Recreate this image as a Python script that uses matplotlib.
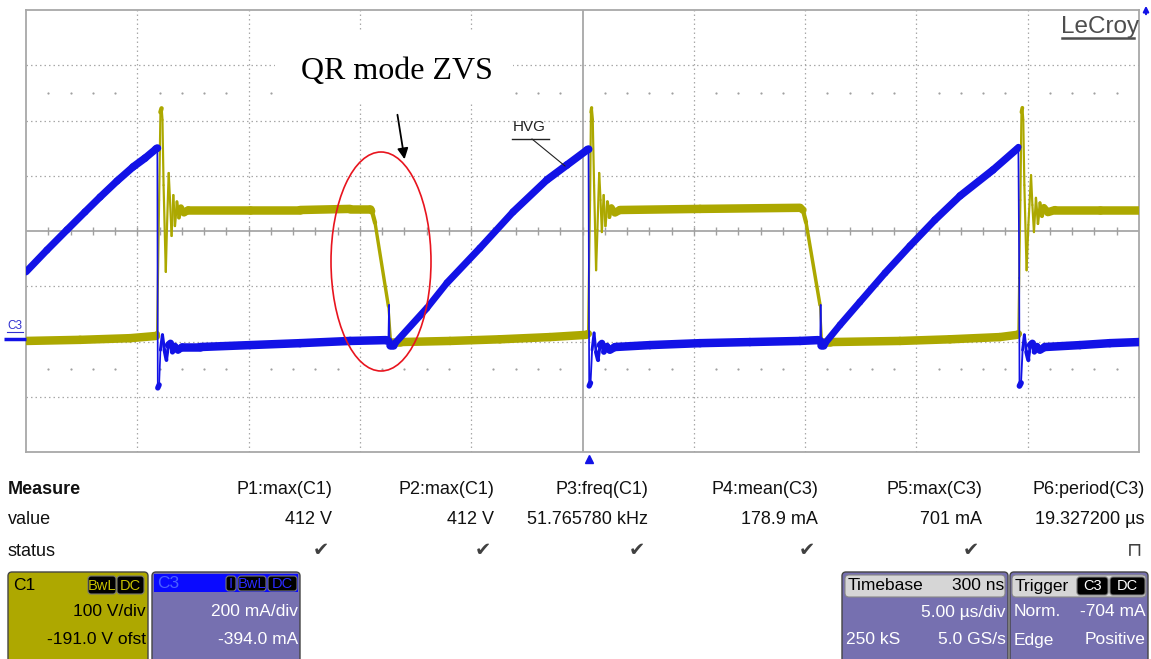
import numpy as np
import matplotlib
matplotlib.use("Agg")
import matplotlib.pyplot as plt
from matplotlib.collections import LineCollection
from matplotlib.patches import Ellipse, Rectangle, FancyBboxPatch, FancyArrowPatch

# scope settings (from the info boxes)
t_per_div = 5.0        # us/div
t_delay = 0.3          # us (trigger sits right of centre)
c1_per_div = 100.0     # V/div
c1_offset = -191.0     # V
c3_per_div = 200.0     # mA/div
c3_offset = -394.0     # mA

# C1 trace (yellow), time in us, volts
c1_t = [-25.30, -22.87, -20.63, -19.46,
        -19.41, -19.32, -19.26, -19.21, -19.17, -19.12, -19.02, -18.97, -18.89,
        -18.83, -18.76, -18.68, -18.61, -18.52, -18.43, -18.34, -18.20, -18.02,
        -15.24, -12.99, -10.74, -9.85, -9.76, -9.62, -9.02, -8.90,
        -8.50, -6.25, -4.01, -1.76, -0.14,
        -0.05, 0.04, 0.08, 0.11, 0.16, 0.22, 0.31, 0.37, 0.45,
        0.51, 0.57, 0.65, 0.73, 0.82, 0.91, 1.00, 1.16, 1.38,
        4.98, 9.47, 9.60, 9.74, 10.37, 10.46,
        10.82, 13.96, 16.21, 18.45, 19.22,
        19.28, 19.37, 19.42, 19.46, 19.50, 19.55, 19.65, 19.73, 19.85,
        19.91, 19.98, 20.07, 20.16, 20.25, 20.34, 20.43, 20.61, 20.92,
        22.95, 24.70]
c1_v = [-8, -6, -3, 1,
        5, 247, 406, 413, 392, 274, 117, 193, 296,
        247, 182, 256, 200, 244, 215, 234, 224, 229,
        229, 229, 231, 231, 227, 206, 55, -10,
        -10, -8, -5, -1, 3,
        5, 247, 406, 414, 392, 274, 120, 193, 296,
        247, 189, 256, 200, 244, 216, 234, 224, 229,
        231, 233, 229, 207, 57, -10,
        -10, -8, -5, -1, 3,
        5, 247, 406, 414, 392, 274, 120, 202, 292,
        238, 189, 251, 204, 242, 218, 234, 225, 229,
        229, 229]

# C3 trace (blue), time in us, mA
c3_t = [-25.30, -24.36, -23.46, -22.65, -21.97, -21.21, -20.49, -19.95, -19.46, -19.40,
        -19.38, -19.32, -19.26, -19.17, -19.08, -18.99, -18.90, -18.81, -18.72,
        -18.61, -18.47, -18.29,
        -17.48, -15.24, -12.99, -10.74, -9.13, -9.02, -8.99, -8.97, -8.81,
        -8.72, -7.29, -6.39, -4.91, -3.42, -1.90, -1.00, -0.10,
        -0.03, 0.00, 0.06, 0.13, 0.22, 0.31, 0.40, 0.49, 0.57, 0.66, 0.80, 0.93, 1.16,
        2.73, 4.98, 7.22, 9.47, 10.28, 10.38, 10.40, 10.42, 10.50,
        10.60, 11.27, 12.16, 13.29, 14.41, 15.53, 16.66, 18.14, 19.22,
        19.28, 19.32, 19.33, 19.40, 19.47, 19.55, 19.64, 19.73, 19.82, 19.91,
        20.00, 20.12, 20.25, 20.47,
        22.05, 23.39, 24.70]
c3_i = [246, 325, 398, 463, 517, 575, 626, 658, 691, 694,
        -174, -163, -37, 18, -37, -73, -19, -12, -44,
        -22, -37, -26,
        -26, -19, -12, -4, -1, -4, 126, -19, -19,
        -12, 115, 206, 332, 463, 579, 633, 687,
        690, -167, -156, -37, 25, -44, -73, -19, -12, -44, -22, -37, -26,
        -19, -12, -8, -4, -1, -4, 126, -19, -19,
        -12, 54, 137, 242, 340, 434, 521, 615, 691,
        698, 224, -167, -156, -37, 18, -44, -73, -19, -12,
        -44, -22, -37, -26,
        -19, -12, -8]

# measurement table
meas_names = ["P1:max(C1)", "P2:max(C1)", "P3:freq(C1)", "P4:mean(C3)", "P5:max(C3)", "P6:period(C3)"]
meas_values = ["412 V", "412 V", "51.765780 kHz", "178.9 mA", "701 mA", "19.327200 µs"]
meas_status = ["✔", "✔", "✔", "✔", "✔", "⊓"]

YEL = "#aca800"
BLU = "#1212e6"
GRID = "#a8a8a8"
PANEL = "#7670b0"
SANS = ["Liberation Sans", "DejaVu Sans"]

W, H = 1151, 659
fig = plt.figure(figsize=(W / 100, H / 100), dpi=100)
fig.patch.set_facecolor("white")

ax = fig.add_axes([26 / W, 1 - 452 / H, 1113 / W, 442 / H])
t_lo = -t_delay - 5 * t_per_div
v_lo = -c1_offset - 4 * c1_per_div
ax.set_xlim(t_lo, t_lo + 10 * t_per_div)
ax.set_ylim(v_lo, v_lo + 8 * c1_per_div)
ax.set_xticks([])
ax.set_yticks([])
for s in ax.spines.values():
    s.set_color(GRID)
    s.set_linewidth(1.3)

dotted = dict(color=GRID, lw=0.9, ls=(0, (1.2, 2.4)), zorder=1)
for k in range(1, 10):
    xg = t_lo + k * t_per_div
    if k == 5:
        ax.axvline(xg, color="#a0a0a0", lw=1.2, zorder=1)
    else:
        ax.axvline(xg, **dotted)
for k in range(1, 8):
    yg = v_lo + k * c1_per_div
    if k == 4:
        ax.axhline(yg, color="#a0a0a0", lw=1.2, zorder=1)
    else:
        ax.axhline(yg, **dotted)

minor_t = t_lo + np.arange(1, 50) * t_per_div / 5
ax.plot(minor_t, np.full(minor_t.shape, v_lo + 4 * c1_per_div), ls="none",
        marker="|", ms=6, mew=1, color="#a0a0a0", zorder=1)
keep = np.arange(1, 50) % 5 != 0
for dv in (-2.5, 2.5):
    ax.plot(minor_t[keep], np.full(keep.sum(), v_lo + (4 + dv) * c1_per_div),
            ls="none", marker="o", ms=1.6, mew=0, color="#a0a0a0", zorder=1)

ax3 = ax.twinx()
i_lo = -c3_offset - 4 * c3_per_div
ax3.set_ylim(i_lo, i_lo + 8 * c3_per_div)
ax3.set_yticks([])
for s in ax3.spines.values():
    s.set_visible(False)
ax3.patch.set_visible(False)


def draw_trace(axis, t, v, color, minw, z):
    # thick where the trace is slow, thin on the fast edges
    t = np.asarray(t, float)
    v = np.asarray(v, float)
    pts = axis.transData.transform(np.column_stack([t, v]))
    d = np.diff(pts, axis=0)
    cos = np.abs(d[:, 0]) / np.hypot(d[:, 0], d[:, 1])
    w_px = np.maximum(minw, 8.5 * np.sqrt(cos))
    segs = np.stack([np.column_stack([t[:-1], v[:-1]]),
                     np.column_stack([t[1:], v[1:]])], axis=1)
    lc = LineCollection(segs, linewidths=w_px * 72 / fig.dpi, colors=color,
                        capstyle="round", joinstyle="round", zorder=z)
    axis.add_collection(lc)


draw_trace(ax, c1_t, c1_v, YEL, 2.2, 3)
draw_trace(ax3, c3_t, c3_i, BLU, 1.7, 4)

# trigger position marker
ax.plot([0], [-0.016], transform=ax.get_xaxis_transform(), marker="^", ms=6,
        color=BLU, clip_on=False, zorder=5)

# overlay in pixel coordinates
ov = fig.add_axes([0, 0, 1, 1])
ov.set_xlim(0, W)
ov.set_ylim(H, 0)
ov.axis("off")

ov.add_patch(Rectangle((275, 32), 238, 70, fc="white", ec="none"))
ov.text(397, 79, "QR mode ZVS", ha="center", va="baseline", fontsize=23,
        family=["Liberation Serif", "DejaVu Serif"])
ov.add_patch(FancyArrowPatch((397, 112), (405, 162), arrowstyle="-|>",
                             mutation_scale=16, color="black", lw=1.3))
ov.add_patch(Ellipse((381, 261.5), 100, 219, fill=False, ec="#e8141e", lw=1.2))

ov.text(513, 127, "HVG", ha="left", va="center", fontsize=11, color="#222222", family=SANS)
ov.plot([512, 549], [139, 139], color="#222222", lw=1.0)
ov.plot([532, 565], [139, 166], color="#222222", lw=0.8)

ov.text(1061, 33, "LeCroy", ha="left", va="baseline", fontsize=17.5, color="#4e4e4e", family=SANS)
ov.plot([1062, 1134], [38, 38], color="#4e4e4e", lw=1.8)
# small off-screen indicator at top right
ov.add_patch(FancyArrowPatch((1146, 17), (1146, 3), arrowstyle="-|>",
                             mutation_scale=8, color=BLU, lw=1.5))

ov.text(7, 326, "C3", ha="left", va="center", fontsize=8.5, color="#3030d0", family=SANS)
ov.plot([7, 23], [332, 332], color="#3030d0", lw=0.8)
ov.plot([4, 26], [339, 339], color=BLU, lw=2.5, solid_capstyle="butt")

# measurement table
txt = dict(fontsize=13, color="#111111", family=SANS, va="center")
ov.text(8, 490, "Measure", fontweight="bold", **txt)
ov.text(8, 520, "value", **txt)
ov.text(8, 551, "status", **txt)
meas_right = [332, 494, 648, 818, 982, 1145]
for xr, name, val, st in zip(meas_right, meas_names, meas_values, meas_status):
    ov.text(xr, 490, name, ha="right", **txt)
    ov.text(xr, 520, val, ha="right", **txt)
    ov.text(xr - 3, 551, st, ha="right", fontsize=14, color="#404040",
            family=SANS, va="center")


def panel(x0, x1, fc):
    ov.add_patch(FancyBboxPatch((x0, 572), x1 - x0, 100, boxstyle="round,pad=0,rounding_size=4",
                                fc=fc, ec="#444444", lw=1.0))


def tag(x0, x1, y0, y1, label, fg, bg="black"):
    ov.add_patch(FancyBboxPatch((x0, y0), x1 - x0, y1 - y0, boxstyle="round,pad=0,rounding_size=3",
                                fc=bg, ec="#777777", lw=0.8))
    ov.text((x0 + x1) / 2, (y0 + y1) / 2 + 0.5, label, ha="center", va="center",
            fontsize=10.5, color=fg, family=SANS)


ptxt = dict(fontsize=12.5, family=SANS, va="center")

# C1 box
panel(8, 148, "#aea800")
ov.text(13, 585, "C1", color="black", ha="left", **ptxt)
tag(88, 116, 576, 594, "BwL", "#c8c200")
tag(117, 144, 576, 594, "DC", "#c8c200")
ov.text(146, 612, "100 V/div", color="black", ha="right", **ptxt)
ov.text(146, 640, "-191.0 V ofst", color="black", ha="right", **ptxt)

# C3 box
panel(152, 300, PANEL)
ov.add_patch(Rectangle((154, 574), 144, 18, fc="#0a0aff", ec="none"))
ov.text(157, 583, "C3", color="#4a60ff", ha="left", **ptxt)
tag(226, 236, 576, 591, "I", "#2a2aff")
tag(238, 266, 576, 591, "BwL", "#2a2aff")
tag(268, 297, 576, 591, "DC", "#2a2aff")
ov.text(298, 612, "200 mA/div", color="white", ha="right", **ptxt)
ov.text(298, 640, "-394.0 mA", color="white", ha="right", **ptxt)

# timebase box
panel(842, 1008, PANEL)
ov.add_patch(FancyBboxPatch((845, 575), 160, 22, boxstyle="round,pad=0,rounding_size=4",
                            fc="#d6d6d6", ec="#888888", lw=0.8))
ov.text(848, 586, "Timebase", color="black", ha="left", **ptxt)
ov.text(1004, 586, "300 ns", color="black", ha="right", **ptxt)
ov.text(1006, 612, "5.00 µs/div", color="white", ha="right", **ptxt)
ov.text(846, 640, "250 kS", color="white", ha="left", **ptxt)
ov.text(1006, 640, "5.0 GS/s", color="white", ha="right", **ptxt)

# trigger box
panel(1010, 1148, PANEL)
ov.add_patch(FancyBboxPatch((1012, 575), 134, 22, boxstyle="round,pad=0,rounding_size=4",
                            fc="#d6d6d6", ec="#888888", lw=0.8))
ov.text(1015, 586, "Trigger", color="black", ha="left", **ptxt)
tag(1077, 1108, 577, 595, "C3", "white")
tag(1110, 1145, 577, 595, "DC", "white")
ov.text(1014, 612, "Norm.", color="white", ha="left", **ptxt)
ov.text(1146, 612, "-704 mA", color="white", ha="right", **ptxt)
ov.text(1014, 640, "Edge", color="white", ha="left", **ptxt)
ov.text(1146, 640, "Positive", color="white", ha="right", **ptxt)

fig.savefig("out.png", dpi=100)
